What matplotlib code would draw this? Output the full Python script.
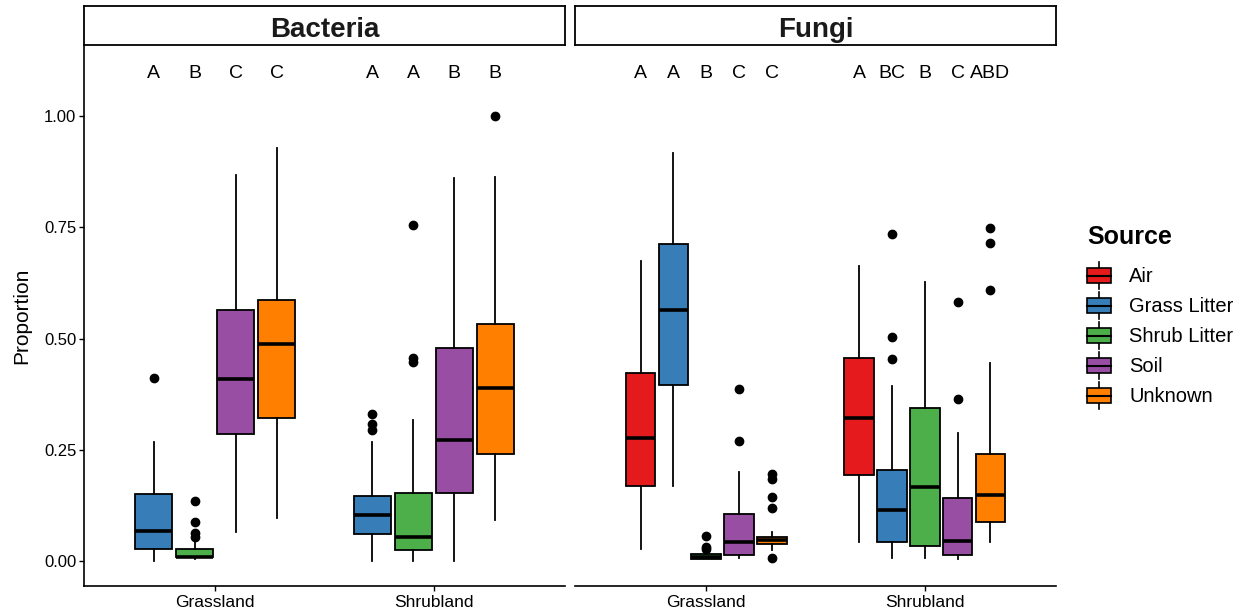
import numpy as np
import matplotlib
matplotlib.use('Agg')
import matplotlib.pyplot as plt
from matplotlib.patches import Rectangle, Patch
from matplotlib.lines import Line2D
from matplotlib.legend_handler import HandlerBase

plt.rcParams['font.family'] = ['Liberation Sans', 'DejaVu Sans']

habitats = ['Grassland', 'Shrubland']
bact_sources = ['Grass Litter', 'Shrub Litter', 'Soil', 'Unknown']
fungi_sources = ['Air', 'Grass Litter', 'Shrub Litter', 'Soil', 'Unknown']
colors = {'Air': '#E41A1C', 'Grass Litter': '#377EB8', 'Shrub Litter': '#4DAF4A',
          'Soil': '#984EA3', 'Unknown': '#FF7F00'}

# lower whisker, Q1, median, Q3, upper whisker
bact_grassland = [
    [0.000, 0.028, 0.067, 0.151, 0.267],
    [0.004, 0.010, 0.010, 0.027, 0.046],
    [0.066, 0.285, 0.410, 0.564, 0.867],
    [0.096, 0.321, 0.489, 0.586, 0.929],
]
bact_grassland_out = [[0.412], [0.135, 0.088, 0.063, 0.055], [], []]
bact_shrubland = [
    [0.000, 0.060, 0.103, 0.147, 0.267],
    [0.000, 0.026, 0.055, 0.152, 0.317],
    [0.000, 0.153, 0.273, 0.480, 0.862],
    [0.092, 0.241, 0.390, 0.534, 0.863],
]
bact_shrubland_out = [[0.331, 0.309, 0.295], [0.755, 0.456, 0.447], [], [1.000]]

fungi_grassland = [
    [0.028, 0.168, 0.277, 0.423, 0.675],
    [0.169, 0.396, 0.565, 0.712, 0.917],
    [0.004, 0.005, 0.010, 0.015, 0.018],
    [0.007, 0.014, 0.042, 0.105, 0.201],
    [0.025, 0.038, 0.047, 0.055, 0.065],
]
fungi_grassland_out = [[], [], [0.056, 0.032, 0.027], [0.386, 0.269],
                       [0.195, 0.185, 0.145, 0.120, 0.008]]
fungi_shrubland = [
    [0.042, 0.193, 0.321, 0.456, 0.664],
    [0.008, 0.043, 0.115, 0.205, 0.394],
    [0.008, 0.035, 0.167, 0.343, 0.628],
    [0.004, 0.014, 0.046, 0.141, 0.289],
    [0.042, 0.088, 0.149, 0.241, 0.446],
]
fungi_shrubland_out = [[], [0.735, 0.504, 0.454], [], [0.582, 0.365], [0.749, 0.716, 0.609]]

bact_letters = [['A', 'B', 'C', 'C'], ['A', 'A', 'B', 'B']]
fungi_letters = [['A', 'A', 'B', 'C', 'C'], ['A', 'BC', 'B', 'C', 'ABD']]

panels = [
    ('Bacteria', bact_sources, [bact_grassland, bact_shrubland],
     [bact_grassland_out, bact_shrubland_out], bact_letters),
    ('Fungi', fungi_sources, [fungi_grassland, fungi_shrubland],
     [fungi_grassland_out, fungi_shrubland_out], fungi_letters),
]

W, H = 1247, 615
fig = plt.figure(figsize=(W / 100, H / 100), dpi=100)
lefts = [84, 575]
pw = 481

for k, (title, sources, stats, outs, letters) in enumerate(panels):
    ax = fig.add_axes([lefts[k] / W, 29 / H, pw / W, 541 / H])
    n = len(sources)
    step = 0.75 / n
    for g in range(2):
        for i, src in enumerate(sources):
            lo, q1, med, q3, hi = stats[g][i]
            pos = g + 1 + (i - (n - 1) / 2) * step
            st = dict(whislo=lo, q1=q1, med=med, q3=q3, whishi=hi, fliers=outs[g][i])
            ax.bxp([st], positions=[pos], widths=step * 0.9, patch_artist=True,
                   showcaps=False, manage_ticks=False,
                   boxprops=dict(facecolor=colors[src], edgecolor='black', linewidth=1.3),
                   medianprops=dict(color='black', linewidth=2.6),
                   whiskerprops=dict(color='black', linewidth=1.3),
                   flierprops=dict(marker='o', markerfacecolor='black',
                                   markeredgecolor='black', markersize=6))
            # significance letters above each box
            ax.text(pos, 1.1, letters[g][i], ha='center', va='center_baseline', fontsize=14)
    ax.set_xlim(0.4, 2.6)
    ax.set_ylim(-0.056, 1.16)
    ax.set_xticks([1, 2])
    ax.set_xticklabels(habitats)
    ax.spines['top'].set_visible(False)
    ax.spines['right'].set_visible(False)
    ax.spines['bottom'].set_linewidth(1.2)
    ax.tick_params(axis='both', length=3.5, width=1, colors='black')
    ax.tick_params(axis='x', labelsize=12.5, pad=3)
    if k == 0:
        ax.set_yticks([0, 0.25, 0.5, 0.75, 1.0])
        ax.set_yticklabels(['0.00', '0.25', '0.50', '0.75', '1.00'])
        ax.tick_params(axis='y', labelsize=12, pad=2)
        ax.spines['left'].set_linewidth(1.2)
        ax.set_ylabel('Proportion', fontsize=15, labelpad=9)
    else:
        ax.spines['left'].set_visible(False)
        ax.set_yticks([])

    # facet strip
    sx = fig.add_axes([lefts[k] / W, (H - 45) / H, pw / W, 39 / H])
    sx.set_xticks([])
    sx.set_yticks([])
    for s in sx.spines.values():
        s.set_linewidth(1.3)
    sx.text(0.5, 8 / 39, title, ha='center', va='baseline', fontsize=20,
            fontweight='bold', color='#1a1a1a', transform=sx.transAxes)


class BoxKey(HandlerBase):
    def create_artists(self, legend, orig_handle, xdescent, ydescent, width, height,
                       fontsize, trans):
        x0, y0 = -xdescent, -ydescent
        cx = x0 + width / 2
        bh = height * 0.56
        by = y0 + (height - bh) / 2
        whisk = Line2D([cx, cx], [y0, y0 + height], color='black', lw=1.2, transform=trans)
        box = Rectangle((x0, by), width, bh, facecolor=orig_handle.get_facecolor(),
                        edgecolor='black', lw=1.2, transform=trans)
        med = Line2D([x0, x0 + width], [y0 + height / 2] * 2, color='black', lw=1.5,
                     transform=trans)
        return [whisk, box, med]


fig.text(1087 / W, 1 - 237 / H, 'Source', fontsize=18, fontweight='bold',
         ha='left', va='center')
handles = [Patch(facecolor=colors[s]) for s in fungi_sources]
leg = fig.legend(handles, fungi_sources, handler_map={Patch: BoxKey()},
                 loc='upper left', bbox_to_anchor=(1087 / W, 1 - 262 / H),
                 frameon=False, fontsize=14.5, borderpad=0, borderaxespad=0,
                 handlelength=1.19, handleheight=1.69, labelspacing=0.15,
                 handletextpad=0.9)

fig.savefig('out.png', dpi=100)
